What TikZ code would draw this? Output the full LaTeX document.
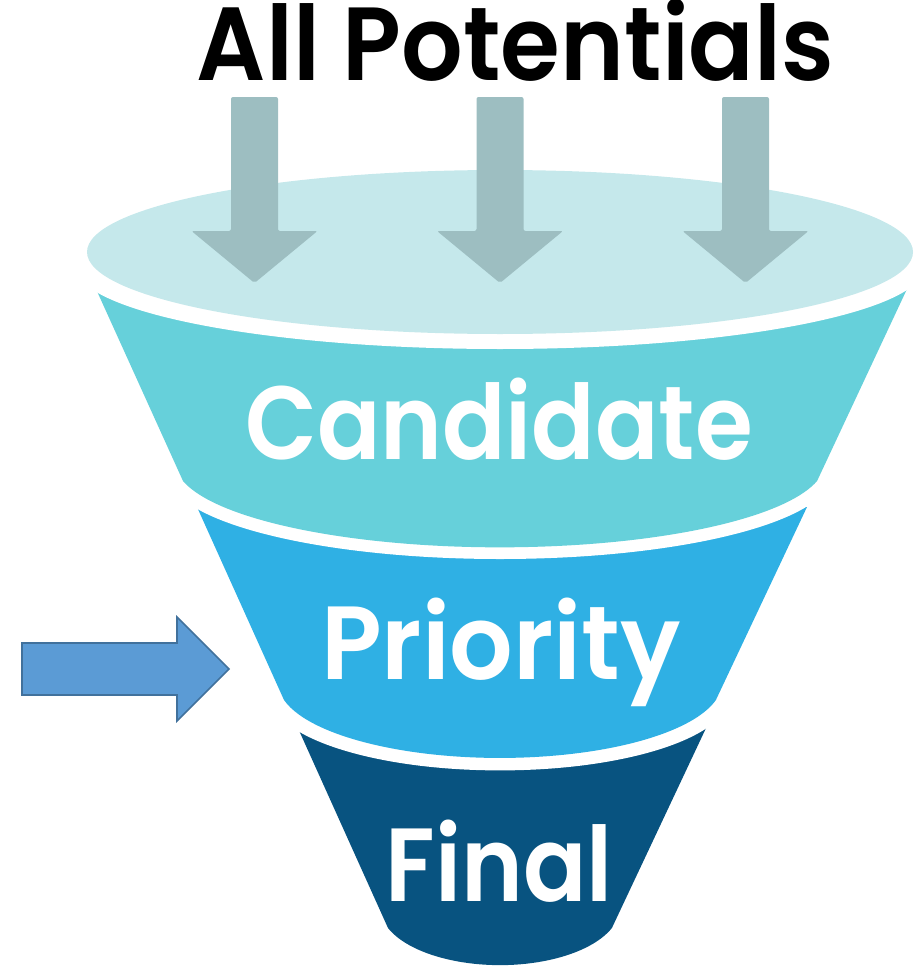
\documentclass[tikz,border=0pt]{standalone}
\usepackage{graphicx}
\usepackage{fontspec}
\setmainfont{Poppins}
\newfontfamily\psemi{Poppins SemiBold}
\definecolor{topc}{HTML}{C5E8EB}
\definecolor{candc}{HTML}{66D0DA}
\definecolor{prioc}{HTML}{2FB0E4}
\definecolor{finc}{HTML}{085380}
\definecolor{grayarr}{HTML}{9DBEC1}
\definecolor{bluearr}{HTML}{5B9BD5}
\definecolor{bluebd}{HTML}{41719C}
\newcommand{\bandlbl}[2][0.9]{\scalebox{#1}[1]{#2}}
\newcommand{\titlelbl}[1]{\scalebox{0.93}[1]{#1}}
\begin{document}
\begin{tikzpicture}[x=1pt,y=1pt,
  bandtext/.style={font=\fontsize{104}{120}\psemi, text=white, inner sep=0pt, anchor=base},
  titletext/.style={font=\fontsize{104}{120}\psemi, text=black, inner sep=0pt, anchor=base},
  gap/.style={fill=white},
  downarrow/.style={fill=grayarr, rounded corners=2pt}]
\useasboundingbox (0,0) rectangle (915,-966);
% Final band
\fill[finc] (297,-726) -- (388,-928) arc[start angle=201.1, end angle=338.9, x radius=120, y radius=58] -- (707,-726) -- cycle;
\fill[gap] (500,-695) ellipse[x radius=230, y radius=75.4];
% Priority band
\fill[prioc] (197,-507) -- (284,-700) arc[start angle=193.4, end angle=346.6, x radius=222, y radius=75.4] -- (807,-507) -- cycle;
\fill[gap] (500,-474) ellipse[x radius=332, y radius=85];
% Candidate band
\fill[candc] (96,-289) -- (183,-481) arc[start angle=192.7, end angle=347.3, x radius=325, y radius=85] -- (907,-289) -- cycle;
\fill[gap] (500,-266) ellipse[x radius=425, y radius=83];
% Top ellipse
\fill[topc] (500,-252) ellipse[x radius=413, y radius=82];
% gray arrows
\foreach \c in {254.5,500,745.5}{
  \fill[downarrow] ({\c-23.5},-97) -- ({\c+23.5},-97) -- ({\c+23.5},-231) -- ({\c+63},-231) -- (\c,-283) -- ({\c-63},-231) -- ({\c-23.5},-231) -- cycle;
}
% blue arrow
\filldraw[fill=bluearr, draw=bluebd, line width=1.6pt, line join=miter] (22,-643) -- (177,-643) -- (177,-617) -- (229,-669) -- (177,-721) -- (177,-695) -- (22,-695) -- cycle;
% texts
\node[titletext] (title) at (515.5,-81) {\titlelbl{All Potentials}};
\node[bandtext] (cand) at (499,-459) {\bandlbl{Candidate}};
\node[bandtext] (prio) at (501,-679) {\bandlbl[0.96]{Priority}};
\node[bandtext] (fin) at (499,-901) {\bandlbl{Final}};
\end{tikzpicture}
\end{document}
